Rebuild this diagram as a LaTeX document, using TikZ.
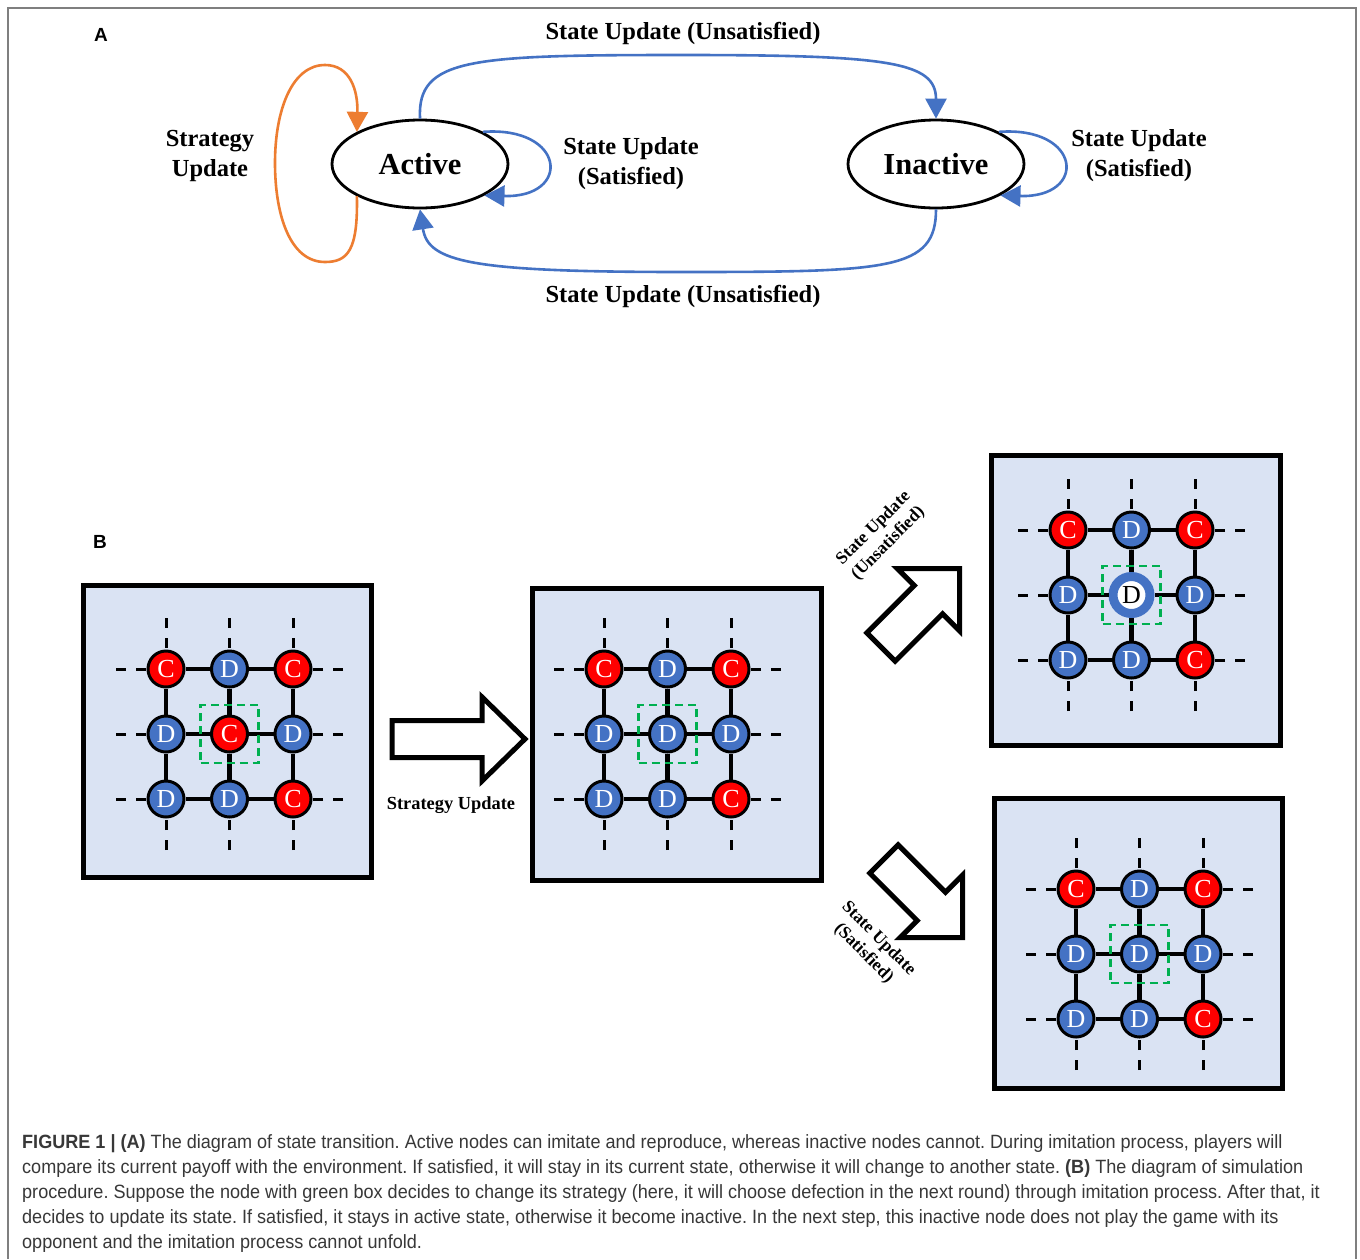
\documentclass[tikz,border=0pt]{standalone}
\usepackage{fontspec}
\setmainfont{Liberation Serif}
\newfontfamily\capfont{Liberation Sans}
\newfontfamily\captionfont[FakeStretch=0.941]{Liberation Sans}
\usetikzlibrary{arrows.meta,shapes.geometric}
\definecolor{arcblue}{HTML}{4472C4}
\definecolor{looporange}{HTML}{ED7D31}
\definecolor{cellred}{HTML}{FF0000}
\definecolor{panelfill}{HTML}{DAE3F3}
\definecolor{boxgreen}{HTML}{00B050}
\definecolor{framegray}{HTML}{7F7F7F}
\definecolor{captext}{HTML}{383838}

% one lattice panel: #1 prefix, #2-#5 panel corners, #6,#7 top-left cell, #8 cells
\newcommand\latticepanel[8]{%
  \node[panel, minimum width={#4-#2}, minimum height={#5-#3}] (#1-panel) at ({(#2+#4)/2},{(#3+#5)/2}) {};
  \foreach \s/\t [count=\i from 0] in {#8} {
    \pgfmathtruncatemacro\r{floor(\i/3)}
    \pgfmathtruncatemacro\c{mod(\i,3)}
    \node[cell\s] (#1-\r-\c) at ({#6+\c*63.5},{#7+\r*65}) {\t};
  }
  \foreach \k in {0,1,2} {
    \draw[gridedge] (#1-\k-0) -- (#1-\k-1) -- (#1-\k-2);
    \draw[gridedge] (#1-0-\k) -- (#1-1-\k) -- (#1-2-\k);
    \coordinate (#1-W\k) at ({#6-50},{#7+\k*65});
    \coordinate (#1-E\k) at ({#6+127+50},{#7+\k*65});
    \coordinate (#1-N\k) at ({#6+\k*63.5},{#7-51});
    \coordinate (#1-S\k) at ({#6+\k*63.5},{#7+130+51});
    \draw[stub] (#1-W\k) -- (#1-\k-0);
    \draw[stub] (#1-E\k) -- (#1-\k-2);
    \draw[stub] (#1-N\k) -- (#1-0-\k);
    \draw[stub] (#1-S\k) -- (#1-2-\k);
  }
  \node[greenbox] (#1-focus) at (#1-1-1) {};
}

% outlined block arrow: #1 start of shaft, #2 angle, #3 shaft length, #4 total length, #5 shaft half width, #6 head half width
\newcommand\blockarrow[6]{%
  \draw[blockarrow, shift={#1}, rotate=#2]
    (0,-#5) -- (#3,-#5) -- (#3,-#6) -- (#4,0) -- (#3,#6) -- (#3,#5) -- (0,#5) -- cycle;
}

\begin{document}
\frenchspacing
\begin{tikzpicture}[x=1pt,y=-1pt,
  state/.style={ellipse, draw, line width=2.8, minimum width=176, minimum height=88,
    inner sep=0, font=\fontsize{30.5}{30.5}\selectfont\bfseries},
  arclabel/.style={align=center, font=\fontsize{24.5}{30}\selectfont\bfseries},
  bluearc/.style={draw=arcblue, line width=2.6, -{Triangle[length=20,width=21]}},
  orangearc/.style={draw=looporange, line width=2.6, -{Triangle[length=20,width=21]}},
  panel/.style={draw, line width=5, fill=panelfill, inner sep=0},
  cellbase/.style={circle, inner sep=0, minimum size=36, line width=3, draw=black,
    text=white, font=\fontsize{26}{26}\selectfont},
  cellC/.style={cellbase, fill=cellred},
  cellD/.style={cellbase, fill=arcblue},
  cellX/.style={circle, inner sep=0, minimum size=37, line width=9, draw=arcblue,
    fill=white, text=black, font=\fontsize{26}{26}\selectfont},
  gridedge/.style={line width=4.5},
  stub/.style={line width=3, dash pattern=on 10 off 10},
  greenbox/.style={draw=boxgreen, line width=2.5, dash pattern=on 8 off 5,
    minimum size=58, inner sep=0},
  blockarrow/.style={draw, line width=5, fill=white, line join=miter},
  steplabel/.style={align=center, font=\fontsize{17.5}{21}\selectfont\bfseries},
  panelletter/.style={font=\capfont\fontsize{19}{19}\selectfont\bfseries},
  capline/.style={anchor=base west, inner sep=0, text=captext,
    font=\captionfont\fontsize{19.2}{19.2}\selectfont},
]
\useasboundingbox (0,0) rectangle (1360,1259);
\fill[white] (0,0) rectangle (1360,1259);
\draw[framegray, line width=1.5] (8,1259) -- (8,8) -- (1356,8) -- (1356,1259);

% ---------- (A) state transition ----------
\node[panelletter] (labA) at (101,35) {A};
\node[state] (act) at (420,164) {Active};
\node[state] (inact) at (936,164) {Inactive};

\draw[bluearc] (act.north) .. controls (417,58) and (470,55) .. (683,55)
  .. controls (890,55) and (936,62) .. (inact.north);
\draw[bluearc] (inact.south) .. controls (936,270) and (890,272) .. (683,272)
  .. controls (470,272) and (428,262) .. (act.south);
\draw[bluearc] (act.27) .. controls (566,126) and (572,198) .. (act.-26);
\draw[bluearc] (inact.27) .. controls (1082,126) and (1088,198) .. (inact.-26);
\draw[orangearc] (act.-153) .. controls (358,250) and (348,262) .. (325,262)
  .. controls (290,262) and (275,215) .. (275,163)
  .. controls (275,110) and (292,65) .. (325,65)
  .. controls (350,65) and (358,90) .. (act.153);

\node[arclabel] (lt) at (683,33) {State Update (Unsatisfied)};
\node[arclabel] (lb) at (683,296) {State Update (Unsatisfied)};
\node[arclabel] (ls) at (210,156) {Strategy\\Update};
\node[arclabel] (la) at (631,164) {State Update\\(Satisfied)};
\node[arclabel] (li) at (1139,156) {State Update\\(Satisfied)};

% ---------- (B) simulation procedure ----------
\node[panelletter] (labB) at (100,542) {B};

\latticepanel{pa}{83}{585}{371}{877}{166}{669}
  {C/C,D/D,C/C,D/D,C/C,D/D,D/D,D/D,C/C}
\latticepanel{pb}{532}{588}{821}{880}{604}{669}
  {C/C,D/D,C/C,D/D,D/D,D/D,D/D,D/D,C/C}
\latticepanel{pc}{991}{455}{1280}{745}{1068}{530}
  {C/C,D/D,C/C,D/D,X/D,D/D,D/D,D/D,C/C}
\latticepanel{pd}{994}{798}{1282}{1088}{1076}{889}
  {C/C,D/D,C/C,D/D,D/D,D/D,D/D,D/D,C/C}

\blockarrow{(392,739)}{0}{90}{133}{18.5}{42}
\blockarrow{(881,647)}{45}{67}{111}{20}{44}
\blockarrow{(884,859)}{-45}{67}{111}{20}{44}

\node[steplabel, font=\fontsize{18.4}{20}\selectfont\bfseries] (lsu) at (451,805) {Strategy Update};
\node[steplabel, rotate=45] (lun) at (881,536) {State Update\\(Unsatisfied)};
\node[steplabel, rotate=-45] (lsa) at (871,946) {State Update\\(Satisfied)};

% ---------- caption ----------
\node[capline] (c1) at (22,1148) {\textbf{FIGURE 1 | (A)} The diagram of state transition. Active nodes can imitate and reproduce, whereas inactive nodes cannot. During imitation process, players will};
\node[capline] (c2) at (22,1173) {compare its current payoff with the environment. If satisfied, it will stay in its current state, otherwise it will change to another state. \textbf{(B)} The diagram of simulation};
\node[capline] (c3) at (22,1198.5) {procedure. Suppose the node with green box decides to change its strategy (here, it will choose defection in the next round) through imitation process. After that, it};
\node[capline] (c4) at (22,1223.5) {decides to update its state. If satisfied, it stays in active state, otherwise it become inactive. In the next step, this inactive node does not play the game with its};
\node[capline] (c5) at (22,1248.5) {opponent and the imitation process cannot unfold.};
\end{tikzpicture}
\end{document}
